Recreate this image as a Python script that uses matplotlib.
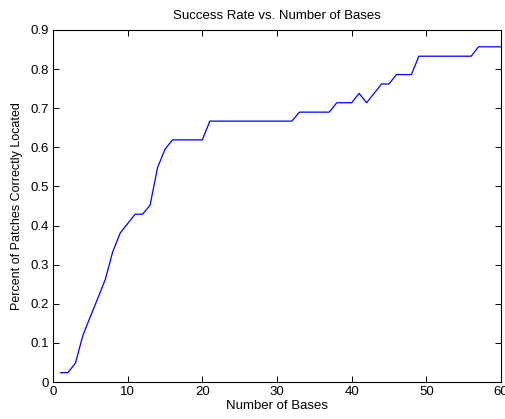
import matplotlib
matplotlib.use('Agg')
import matplotlib.pyplot as plt

# number of bases
bases = list(range(1, 61))

# fraction of patches correctly located
success = [0.024, 0.024, 0.048, 0.119, 0.167, 0.214, 0.262, 0.333, 0.381, 0.405,
           0.429, 0.429, 0.452, 0.548, 0.595, 0.619, 0.619, 0.619, 0.619, 0.619,
           0.667, 0.667, 0.667, 0.667, 0.667, 0.667, 0.667, 0.667, 0.667, 0.667,
           0.667, 0.667, 0.690, 0.690, 0.690, 0.690, 0.690, 0.714, 0.714, 0.714,
           0.738, 0.714, 0.738, 0.762, 0.762, 0.786, 0.786, 0.786, 0.833, 0.833,
           0.833, 0.833, 0.833, 0.833, 0.833, 0.833, 0.857, 0.857, 0.857, 0.857]

xticks = [0, 10, 20, 30, 40, 50, 60]
yticks = [0, 0.1, 0.2, 0.3, 0.4, 0.5, 0.6, 0.7, 0.8, 0.9]
ytick_labels = ['0', '0.1', '0.2', '0.3', '0.4', '0.5', '0.6', '0.7', '0.8', '0.9']

plt.rcParams['font.family'] = ['Liberation Sans', 'DejaVu Sans']

fig = plt.figure(figsize=(5.05, 4.19), dpi=100)
ax = fig.add_axes([53 / 505, 1 - 382 / 419, 448 / 505, 352 / 419])

ax.plot(bases, success, color='blue', linewidth=0.9)

ax.set_xlim(0, 60)
ax.set_ylim(0, 0.9)
ax.set_xticks(xticks)
ax.set_yticks(yticks)
ax.set_yticklabels(ytick_labels)
ax.tick_params(direction='in', top=True, right=True, length=4, width=0.7,
               labelsize=9.5, pad=3)
for s in ax.spines.values():
    s.set_linewidth(0.8)

ax.set_title('Success Rate vs. Number of Bases', fontsize=9.5, pad=8)
ax.set_xlabel('Number of Bases', fontsize=9.5, labelpad=1)
ax.set_ylabel('Percent of Patches Correctly Located', fontsize=9, labelpad=5)

fig.savefig('out.png', dpi=100)
